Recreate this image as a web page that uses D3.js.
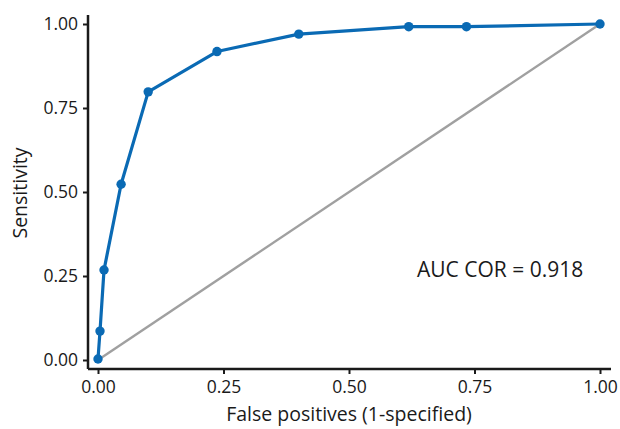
<!DOCTYPE html>
<html>
<head>
<meta charset="utf-8">
<script src="https://cdn.jsdelivr.net/npm/d3@7"></script>
<style>
  body { margin: 0; background: #fff; }
  text { font-family: "Open Sans", "Lato", sans-serif; fill: #1a1a1a; }
</style>
</head>
<body>
<figure id="roc" style="margin:0"></figure>
<script>
// ROC curve points
const fpr = [0, 0.004, 0.012, 0.046, 0.10, 0.237, 0.40, 0.619, 0.734, 1.0];
const tpr = [0.003, 0.086, 0.268, 0.523, 0.798, 0.918, 0.970, 0.992, 0.992, 1.0];
const refLine = [0, 1];
const ticks = [0, 0.25, 0.5, 0.75, 1];
const aucLabel = "AUC COR = 0.918";

const width = 620, height = 429;
const panel = {left: 88, right: 611, top: 15, bottom: 369};

const svg = d3.select("figure#roc")
  .append("svg")
  .attr("width", width)
  .attr("height", height);

// scales (ggplot style small expansion)
const x = d3.scaleLinear().domain([0, 1]).range([98, 600]);
const y = d3.scaleLinear().domain([0, 1]).range([360, 24]);

// x axis
const xAxis = svg.append("g")
  .attr("transform", "translate(0," + panel.bottom + ")")
  .call(d3.axisBottom(x).tickValues(ticks).tickFormat(d3.format(".2f")).tickSize(5).tickSizeOuter(0));
xAxis.select(".domain").remove();
xAxis.selectAll(".tick line").attr("stroke", "#1a1a1a").attr("stroke-width", 2);
xAxis.selectAll(".tick text").attr("dy", "0.71em").attr("y", 12).style("font-size", "17.5px");

// y axis
const yAxis = svg.append("g")
  .attr("transform", "translate(" + panel.left + ",0)")
  .call(d3.axisLeft(y).tickValues(ticks).tickFormat(d3.format(".2f")).tickSize(5).tickSizeOuter(0));
yAxis.select(".domain").remove();
yAxis.selectAll(".tick line").attr("stroke", "#1a1a1a").attr("stroke-width", 2);
yAxis.selectAll(".tick text").attr("x", -10).style("font-size", "17.5px");

// axis lines
svg.append("line")
  .attr("x1", panel.left).attr("x2", panel.right)
  .attr("y1", panel.bottom).attr("y2", panel.bottom)
  .attr("stroke", "#1a1a1a").attr("stroke-width", 2.5);
svg.append("line")
  .attr("x1", panel.left).attr("x2", panel.left)
  .attr("y1", panel.top).attr("y2", panel.bottom)
  .attr("stroke", "#1a1a1a").attr("stroke-width", 2.5);

// reference diagonal
svg.append("line")
  .attr("x1", x(refLine[0])).attr("y1", y(refLine[0]))
  .attr("x2", x(refLine[1])).attr("y2", y(refLine[1]))
  .attr("stroke", "#a0a0a0").attr("stroke-width", 2.4);

const data = fpr.map((d, i) => ({fpr: d, tpr: tpr[i]}));

// ROC line
svg.append("path")
  .datum(data)
  .attr("fill", "none")
  .attr("stroke", "#0a6ab4")
  .attr("stroke-width", 3.2)
  .attr("stroke-linejoin", "round")
  .attr("d", d3.line().x(d => x(d.fpr)).y(d => y(d.tpr)));

svg.selectAll("circle.pt")
  .data(data)
  .enter()
  .append("circle")
  .attr("class", "pt")
  .attr("cx", d => x(d.fpr))
  .attr("cy", d => y(d.tpr))
  .attr("r", 4.7)
  .attr("fill", "#0a6ab4");

// labels
svg.append("text")
  .attr("x", 349).attr("y", 421)
  .attr("text-anchor", "middle")
  .style("font-size", "19.5px")
  .text("False positives (1-specified)");

svg.append("text")
  .attr("transform", "translate(27,193) rotate(-90)")
  .attr("text-anchor", "middle")
  .style("font-size", "19.5px")
  .text("Sensitivity");

svg.append("text")
  .attr("x", 417).attr("y", 277)
  .style("font-size", "21px")
  .text(aucLabel);
</script>
</body>
</html>
